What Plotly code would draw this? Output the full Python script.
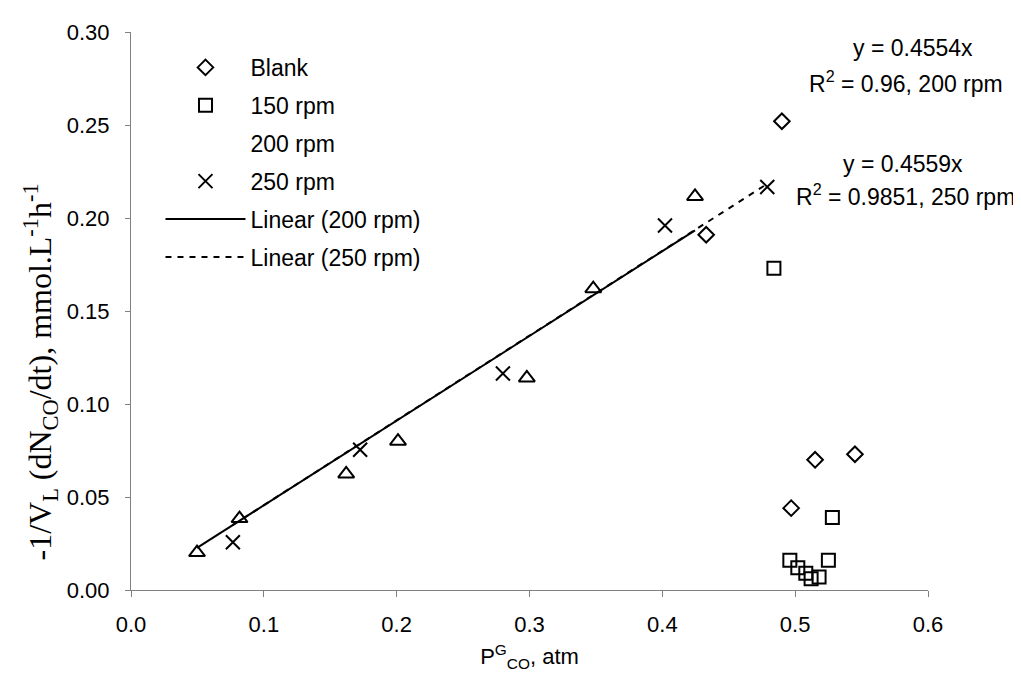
import plotly.graph_objects as go

# data
blank_x = [0.490, 0.433, 0.497, 0.515, 0.545]
blank_y = [0.252, 0.191, 0.044, 0.070, 0.073]

rpm150_x = [0.484, 0.528, 0.496, 0.502, 0.508, 0.512, 0.518, 0.525]
rpm150_y = [0.173, 0.039, 0.016, 0.012, 0.009, 0.006, 0.007, 0.016]

rpm200_x = [0.0497, 0.0817, 0.162, 0.201, 0.298, 0.348, 0.4246]
rpm200_y = [0.0201, 0.0384, 0.0624, 0.080, 0.114, 0.162, 0.2116]

rpm250_x = [0.0767, 0.1725, 0.280, 0.402, 0.479]
rpm250_y = [0.0257, 0.0754, 0.1164, 0.196, 0.2167]

slope_200 = 0.4554
slope_250 = 0.4559

fnt = 'Arial, Liberation Sans, sans-serif'

fig = go.Figure()
fig.add_trace(go.Scatter(
    x=blank_x, y=blank_y, mode='markers', name='Blank', legendgroup='a',
    marker=dict(symbol='diamond-open', size=12, color='black', line=dict(width=2, color='black'))
))
fig.add_trace(go.Scatter(
    x=rpm150_x, y=rpm150_y, mode='markers', name='150 rpm', legendgroup='b',
    marker=dict(symbol='square-open', size=13, color='black', line=dict(width=2, color='black'))
))
# 200 rpm: triangles on the plot, but no symbol in the legend
fig.add_trace(go.Scatter(
    x=rpm200_x, y=rpm200_y, mode='markers', name='200 rpm', showlegend=False,
    marker=dict(symbol='triangle-up-open', size=14, color='black', line=dict(width=2, color='black'))
))
fig.add_trace(go.Scatter(
    x=[None], y=[None], mode='markers', name='200 rpm', legendgroup='c',
    marker=dict(symbol='triangle-up-open', size=13, color='rgba(0,0,0,0)', line=dict(width=0))
))
fig.add_trace(go.Scatter(
    x=rpm250_x, y=rpm250_y, mode='markers', name='250 rpm', legendgroup='d',
    marker=dict(symbol='x-thin', size=14, color='black', line=dict(width=2, color='black'))
))

# trendlines through the origin, over each series' x span
x200 = [min(rpm200_x), max(rpm200_x)]
x250 = [min(rpm250_x), max(rpm250_x)]
fig.add_trace(go.Scatter(
    x=x200, y=[slope_200 * v for v in x200], mode='lines', name='Linear (200 rpm)', legendgroup='e',
    line=dict(color='black', width=2)
))
fig.add_trace(go.Scatter(
    x=x250, y=[slope_250 * v for v in x250], mode='lines', name='Linear (250 rpm)', legendgroup='f',
    line=dict(color='black', width=2, dash='6px,6px')
))

# trendline labels
labels = [
    (0.981, 0.972, 'center', 'y = 0.4554x'),
    (1.096, 0.911, 'right', 'R<sup>2</sup> = 0.96, 200 rpm'),
    (0.9685, 0.763, 'center', 'y = 0.4559x'),
    (1.112, 0.708, 'right', 'R<sup>2</sup> = 0.9851, 250 rpm'),
]
for lx, ly, anc, txt in labels:
    fig.add_annotation(x=lx, y=ly, xref='paper', yref='paper', text=txt, showarrow=False,
                       xanchor=anc, yanchor='middle', font=dict(family=fnt, size=23, color='black'))

# y title in serif, like the original
fig.add_annotation(
    x=-0.114, y=0.39, xref='paper', yref='paper', textangle=-90, showarrow=False,
    text='-1/V<sub>L</sub> (dN<sub>CO</sub>/dt), mmol.L<sup>-1</sup>h<sup>-1</sup>',
    xanchor='center', yanchor='middle',
    font=dict(family='Times New Roman, Liberation Serif, serif', size=32, color='black')
)

# page body adds an 8px margin, so the figure is 8px smaller and shifted
fig.update_layout(
    width=1013,
    height=669,
    margin=dict(l=123, r=93, t=16, b=78),
    paper_bgcolor='white',
    plot_bgcolor='white',
    font=dict(family=fnt, size=22, color='black'),
    showlegend=True,
    legend=dict(
        x=0.037, y=0.975, xanchor='left', yanchor='top',
        bgcolor='rgba(0,0,0,0)', font=dict(size=23),
        tracegroupgap=5, itemwidth=80,
    ),
    xaxis=dict(
        range=[0, 0.6], dtick=0.1, tickformat='.1f',
        showgrid=False, zeroline=False, showline=True, linecolor='#808080', linewidth=1,
        ticks='outside', ticklen=6, tickcolor='#808080', ticklabelstandoff=9,
        title=dict(text='P<sup>G</sup><sub>CO</sub>, atm', standoff=12, font=dict(size=22)),
    ),
    yaxis=dict(
        range=[0, 0.30], dtick=0.05, tickformat='.2f',
        showgrid=False, zeroline=False, showline=True, linecolor='#808080', linewidth=1,
        ticks='outside', ticklen=5, tickcolor='#808080', ticklabelstandoff=11,
    ),
)

fig.write_html("out.html")
